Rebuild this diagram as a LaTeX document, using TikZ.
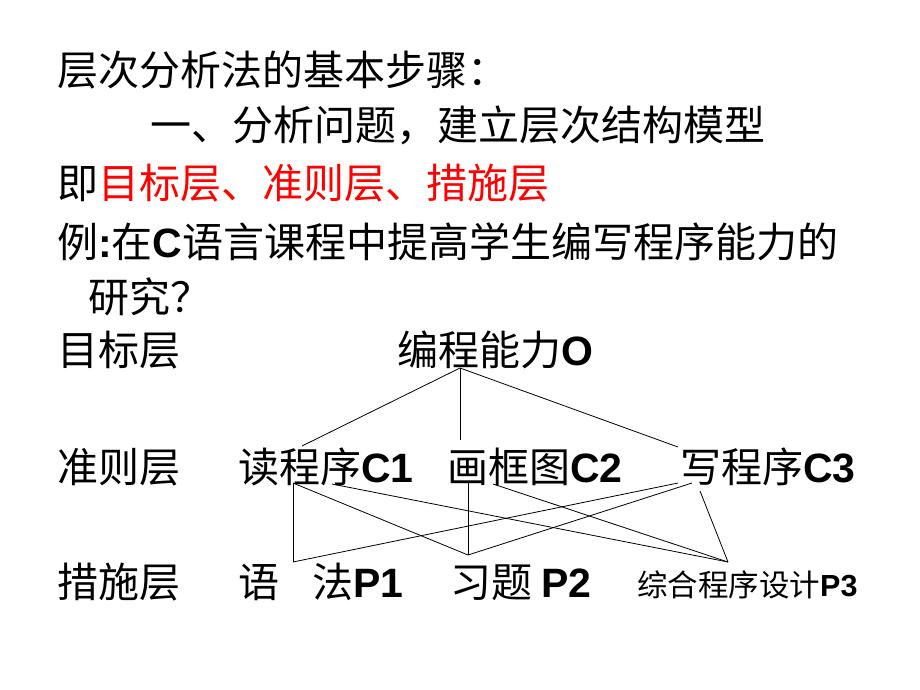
\documentclass[tikz,border=0pt]{standalone}
\usepackage{fontspec}
\setmainfont{Noto Sans CJK SC}
\newfontfamily\latb{Liberation Sans}[BoldFont={* Bold}]
\newcommand{\LB}[1]{{\latb\bfseries #1}}
\definecolor{redtxt}{RGB}{255,0,0}
\begin{document}
\begin{tikzpicture}[x=1pt,y=-1pt,
  txt/.style={anchor=west,inner sep=0pt,font=\fontsize{41}{41}\selectfont,text height=36pt,text depth=5pt},
  small/.style={anchor=west,inner sep=0pt,font=\fontsize{30.5}{30.5}\selectfont,text height=27pt,text depth=4pt},
  link/.style={draw=black,line width=0.8pt}]
\useasboundingbox (0,0) rectangle (920,690);
\node[txt] (t1) at (57,70) {层次分析法的基本步骤：};
\node[txt] (t2) at (150,125) {一、分析问题，建立层次结构模型};
\node[txt] (t3) at (57,183) {即\textcolor{redtxt}{目标层、准则层、措施层}};
\node[txt] (t4) at (57,242) {例\LB{:}在\LB{C}语言课程中提高学生编写程序能力的};
\node[txt] (t5) at (88,297) {研究？};
\node[txt] (l1) at (57,350) {目标层};
\node[txt] (o) at (397,350) {编程能力\LB{O}};
\node[txt] (l2) at (57,467) {准则层};
\node[txt] (c1) at (238,467) {读程序\LB{C1}};
\node[txt] (c2) at (447,467) {画框图\LB{C2}};
\node[txt] (c3) at (680,467) {写程序\LB{C3}};
\node[txt] (l3) at (57,582) {措施层};
\node[txt] (p1a) at (238,582) {语};
\node[txt] (p1) at (312,582) {法\LB{P1}};
\node[txt] (p2) at (450,582) {习题 \LB{P2}};
\node[small] (p3) at (637,585) {综合程序设计\LB{P3}};
% connection points
\coordinate (oa) at (460,368);
\coordinate (c1t) at (302,446);
\coordinate (c2t) at (460,440);
\coordinate (c3t) at (678,447);
\coordinate (c1a) at (293,483);
\coordinate (c1b) at (332,484);
\coordinate (c2a) at (468,483);
\coordinate (c2b) at (493,484);
\coordinate (c3a) at (678,483);
\coordinate (c3b) at (692,483);
\coordinate (c3c) at (700,491);
\coordinate (p1t) at (293,562);
\coordinate (p2t) at (468,555);
\coordinate (p3t) at (728,562);
\draw[link] (oa) -- (c1t);
\draw[link] (oa) -- (c2t);
\draw[link] (oa) -- (c3t);
\draw[link] (c1a) -- (p1t);
\draw[link] (p1t) -- (c3a);
\draw[link] (c1a) -- (p2t);
\draw[link] (c1b) -- (p3t);
\draw[link] (c2a) -- (p2t);
\draw[link] (c2b) -- (p3t);
\draw[link] (c3b) -- (p2t);
\draw[link] (c3c) -- (p3t);
\end{tikzpicture}
\end{document}
